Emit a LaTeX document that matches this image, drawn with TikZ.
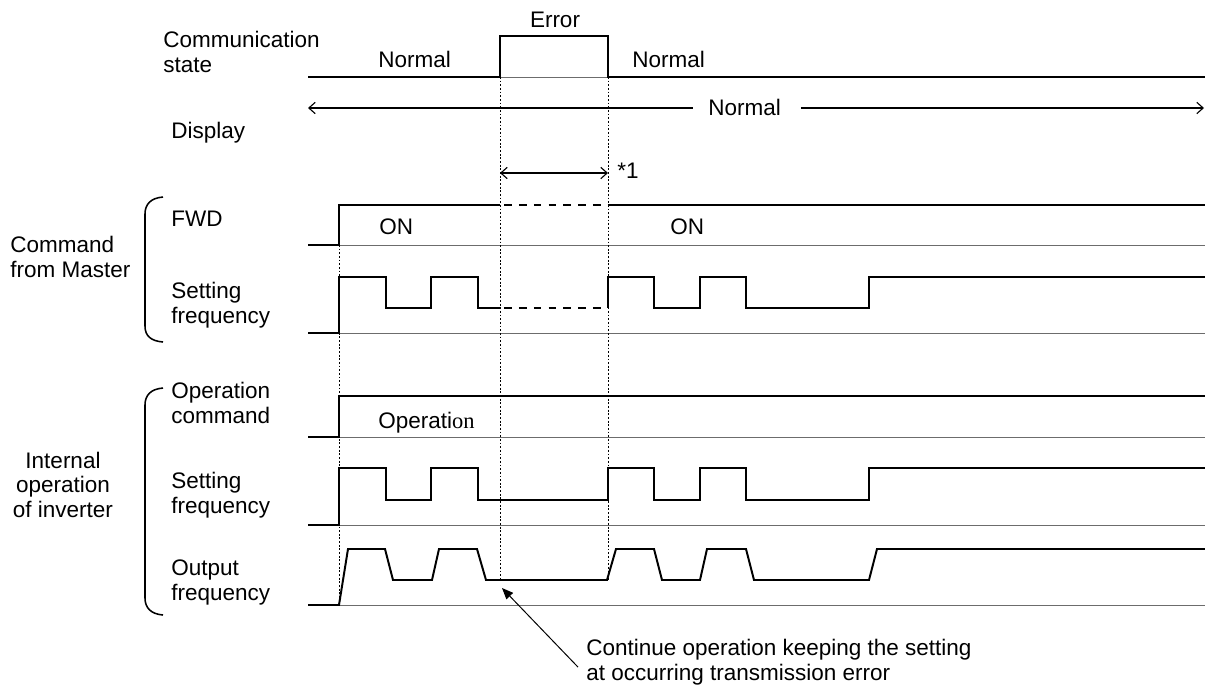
\documentclass[tikz,border=0pt]{standalone}
\usepackage{fontspec}
\setmainfont{Liberation Sans}
\newfontfamily\timesfont{Liberation Serif}
\usetikzlibrary{arrows.meta}

\begin{document}
\begin{tikzpicture}[x=0.025cm, y=-0.025cm,
		sig/.style={line width=1.4pt},
		baseln/.style={line width=0.6pt, color=gray!85!black},
		guide/.style={line width=0.6pt, dash pattern=on 1.3pt off 1.3pt},
		gap/.style={line width=1.4pt, dash pattern=on 5.5pt off 5pt, dash phase=-3pt},
		brack/.style={line width=1.1pt},
		txt/.style={inner sep=0pt, font=\fontsize{16}{17.2}\selectfont},
		lbl/.style={txt, anchor=base west, align=left}]
		\useasboundingbox (0, 0) rectangle (1205, 691);

		% row labels (multi-line nodes sit on their last baseline)
		\node[lbl] (comm) at (163, 72) {Communication\\state};
		\node[lbl] (disp) at (171, 138) {Display};
		\node[lbl] (fwd) at (171, 226) {FWD};
		\node[lbl] (msetf) at (171, 323) {Setting\\frequency};
		\node[lbl] (opcmd) at (171, 423) {Operation\\command};
		\node[lbl] (isetf) at (171, 513) {Setting\\frequency};
		\node[lbl] (outf) at (171, 600) {Output\\frequency};

		% group labels and brackets
		\node[lbl] (master) at (10, 277) {Command\\from Master};
		\node[txt, anchor=base, align=center] (inverter) at (63, 517) {Internal\\operation\\of inverter};
		\draw[brack] (163, 197) .. controls (151, 198) and (145, 204) .. (145, 214) -- (145, 326) .. controls (145, 336) and (151, 341) .. (163, 342);
		\draw[brack] (163, 388) .. controls (151, 389) and (145, 395) .. (145, 405) -- (145, 598) .. controls (145, 608) and (151, 614) .. (163, 615);

		% communication state
		\draw[baseln] (500, 77) -- (608, 77);
		\draw[sig] (308, 77) -- (500, 77) -- (500, 36) -- (608, 36) -- (608, 77) -- (1205, 77);
		\node[txt, anchor=base] (err) at (555, 27) {Error};
		\node[txt, anchor=base west] (norm1) at (378, 67) {Normal};
		\node[txt, anchor=base west] (norm2) at (632, 67) {Normal};

		% display
		\node[txt, anchor=base west] (dnorm) at (708, 115) {Normal};
		\coordinate (dleft) at (308, 108);
		\coordinate (dright) at (1204, 108);
		\draw[line width=0.8pt, -{Straight Barb[length=4.5pt, width=8pt]}] ([xshift=-10.7pt]dnorm.west |- dleft) -- (dleft);
		\draw[line width=0.8pt, -{Straight Barb[length=4.5pt, width=8pt]}] ([xshift=14pt]dnorm.east |- dright) -- (dright);

		% error span *1
		\coordinate (e1) at (500, 173);
		\coordinate (e2) at (608, 173);
		\draw[line width=0.8pt, {Straight Barb[length=4.5pt, width=8pt]}-{Straight Barb[length=4.5pt, width=8pt]}] (e1) -- (e2);
		\node[txt, anchor=base west] (star) at (617, 178) {*1};

		% FWD
		\draw[baseln] (339, 245) -- (1205, 245);
		\draw[sig] (308, 245) -- (339, 245) -- (339, 205) -- (500, 205);
		\draw[gap] (500, 205) -- (608, 205);
		\draw[sig] (608, 205) -- (1205, 205);
		\node[txt, anchor=base west] (on1) at (379, 234) {ON};
		\node[txt, anchor=base west] (on2) at (670, 234) {ON};

		% setting frequency from master
		\draw[baseln] (339, 333) -- (1205, 333);
		\draw[sig] (308, 333) -- (339, 333) -- (339, 277) -- (386, 277) -- (386, 308) -- (431, 308) -- (431, 277) -- (478, 277) -- (478, 308) -- (500, 308);
		\draw[gap] (500, 308) -- (608, 308);
		\draw[sig] (608, 308) -- (608, 277) -- (654, 277) -- (654, 308) -- (700, 308) -- (700, 277) -- (746, 277) -- (746, 308) -- (869, 308) -- (869, 277) -- (1205, 277);

		% operation command
		\draw[baseln] (339, 437) -- (1205, 437);
		\draw[sig] (308, 437) -- (339, 437) -- (339, 396) -- (1205, 396);
		\node[txt, anchor=base west] (opn) at (378, 428) {Operati{\timesfont on}};

		% internal setting frequency
		\draw[baseln] (339, 525) -- (1205, 525);
		\draw[sig] (308, 525) -- (339, 525) -- (339, 468) -- (386, 468) -- (386, 500) -- (431, 500) -- (431, 468) -- (478, 468) -- (478, 500) -- (608, 500) -- (608, 468) -- (654, 468) -- (654, 500) -- (700, 500) -- (700, 468) -- (746, 468) -- (746, 500) -- (869, 500) -- (869, 468) -- (1205, 468);

		% output frequency
		\draw[baseln] (339, 605) -- (1205, 605);
		\draw[sig] (308, 605) -- (339, 605) -- (348, 549) -- (385, 549) -- (393, 580) -- (432, 580) -- (439, 549) -- (477, 549) -- (486, 580) -- (607, 580) -- (616, 549) -- (654, 549) -- (662, 580) -- (700, 580) -- (707, 549) -- (746, 549) -- (754, 580) -- (869, 580) -- (877, 549) -- (1205, 549);

		% timing guides
		\draw[guide] (339, 245) -- (339, 605);
		\draw[guide] (500, 77) -- (500, 580);
		\draw[guide] (608, 77) -- (608, 580);

		% note
		\node[lbl] (note) at (586, 680) {Continue operation keeping the setting\\at occurring transmission error};
		\coordinate (tip) at (502, 588);
		\draw[line width=0.7pt, -{Triangle[length=8pt, width=6.5pt]}] ([shift={(-8, 5)}]note.west) -- (tip);
	\end{tikzpicture}
\end{document}
